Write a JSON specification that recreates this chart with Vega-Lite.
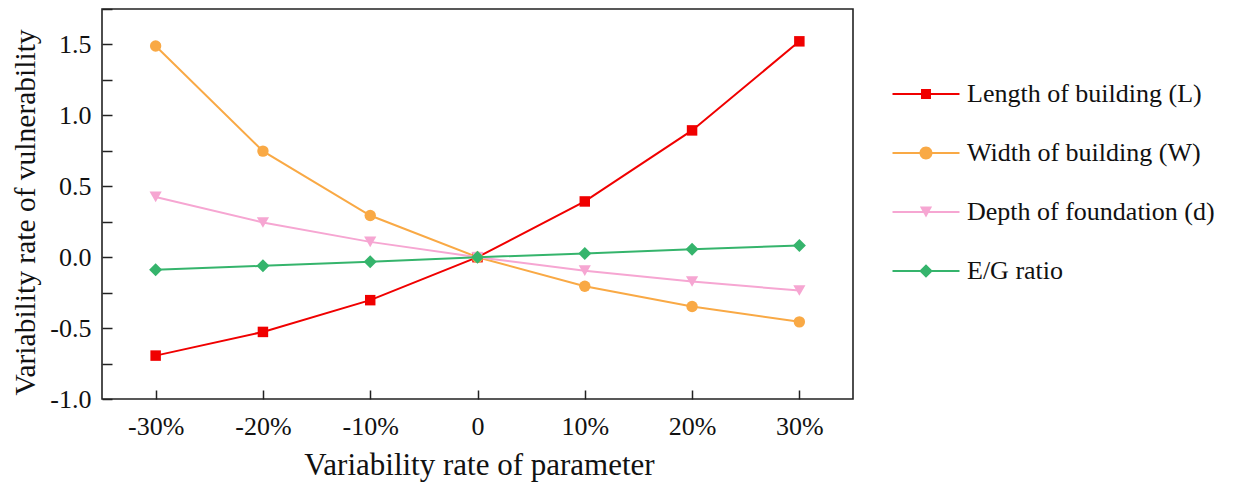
{
  "$schema": "https://vega.github.io/schema/vega-lite/v6.json",
  "width": 751,
  "height": 390,
  "autosize": {"type": "none"},
  "padding": {"left": 102, "top": 9, "right": 397, "bottom": 85},
  "background": "white",
  "config": {
    "font": "Liberation Serif",
    "view": {"stroke": "#222222", "strokeWidth": 1.6},
    "axis": {"grid": false, "domain": false, "labelFont": "Liberation Serif", "titleFont": "Liberation Serif", "labelColor": "#111111", "titleColor": "#111111", "tickColor": "#222222", "titleFontWeight": "normal"},
    "legend": {"labelFont": "Liberation Serif", "padding": 0}
  },
  "data": {
    "values": [
      {"x": -30, "y": -0.694, "series": "Length of building (L)"},
      {"x": -20, "y": -0.527, "series": "Length of building (L)"},
      {"x": -10, "y": -0.303, "series": "Length of building (L)"},
      {"x": 0, "y": 0, "series": "Length of building (L)"},
      {"x": 10, "y": 0.393, "series": "Length of building (L)"},
      {"x": 20, "y": 0.894, "series": "Length of building (L)"},
      {"x": 30, "y": 1.522, "series": "Length of building (L)"},
      {"x": -30, "y": 1.489, "series": "Width of building (W)"},
      {"x": -20, "y": 0.748, "series": "Width of building (W)"},
      {"x": -10, "y": 0.294, "series": "Width of building (W)"},
      {"x": 0, "y": 0, "series": "Width of building (W)"},
      {"x": 10, "y": -0.205, "series": "Width of building (W)"},
      {"x": 20, "y": -0.348, "series": "Width of building (W)"},
      {"x": 30, "y": -0.456, "series": "Width of building (W)"},
      {"x": -30, "y": 0.425, "series": "Depth of foundation (d)"},
      {"x": -20, "y": 0.245, "series": "Depth of foundation (d)"},
      {"x": -10, "y": 0.108, "series": "Depth of foundation (d)"},
      {"x": 0, "y": 0, "series": "Depth of foundation (d)"},
      {"x": 10, "y": -0.095, "series": "Depth of foundation (d)"},
      {"x": 20, "y": -0.172, "series": "Depth of foundation (d)"},
      {"x": 30, "y": -0.235, "series": "Depth of foundation (d)"},
      {"x": -30, "y": -0.089, "series": "E/G ratio"},
      {"x": -20, "y": -0.061, "series": "E/G ratio"},
      {"x": -10, "y": -0.032, "series": "E/G ratio"},
      {"x": 0, "y": 0, "series": "E/G ratio"},
      {"x": 10, "y": 0.026, "series": "E/G ratio"},
      {"x": 20, "y": 0.056, "series": "E/G ratio"},
      {"x": 30, "y": 0.083, "series": "E/G ratio"}
    ]
  },
  "layer": [
    {
      "mark": {"type": "line", "strokeWidth": 2},
      "encoding": {
        "x": {
          "field": "x", "type": "quantitative",
          "scale": {"domain": [-35, 35], "nice": false, "zero": false},
          "axis": {
            "orient": "bottom",
            "values": [-30, -20, -10, 0, 10, 20, 30],
            "labelExpr": "datum.value == 0 ? '0' : datum.value + '%'",
            "ticks": false, "labelPadding": 14, "labelFontSize": 26,
            "title": "Variability rate of parameter", "titleFontSize": 31,
            "titleX": 377, "titleY": 66, "titleBaseline": "middle"
          }
        },
        "y": {
          "field": "y", "type": "quantitative",
          "scale": {"domain": [-1, 1.75], "nice": false, "zero": false},
          "axis": {
            "orient": "left",
            "values": [-1, -0.5, 0, 0.5, 1, 1.5],
            "labelExpr": "replace(format(datum.value, '.1f'), '\u2212', '-')",
            "ticks": false, "labelPadding": 11, "labelFontSize": 26,
            "title": "Variability rate of vulnerability", "titleFontSize": 29.5,
            "titleX": -77, "titleY": 203, "titleBaseline": "middle", "titleAngle": -90
          }
        },
        "color": {
          "field": "series", "type": "nominal",
          "scale": {
            "domain": ["Length of building (L)", "Width of building (W)", "Depth of foundation (d)", "E/G ratio"],
            "range": ["#f00000", "#f9a945", "#f6a6d2", "#35b46c"]
          },
          "legend": null
        }
      }
    },
    {
      "mark": {"type": "point", "filled": true, "opacity": 1},
      "encoding": {
        "x": {
          "field": "x", "type": "quantitative",
          "scale": {"domain": [-35, 35], "nice": false, "zero": false},
          "axis": {"orient": "bottom", "values": [-30, -20, -10, 0, 10, 20, 30], "labels": false, "title": null, "tickSize": 9, "offset": -9, "ticks": true, "tickWidth": 1.5}
        },
        "y": {
          "field": "y", "type": "quantitative",
          "scale": {"domain": [-1, 1.75], "nice": false, "zero": false},
          "axis": {"orient": "left", "values": [-1, -0.75, -0.5, -0.25, 0, 0.25, 0.5, 0.75, 1, 1.25, 1.5, 1.75], "labels": false, "title": null, "tickSize": 10, "offset": -10, "ticks": true, "tickWidth": 1.5}
        },
        "color": {
          "field": "series", "type": "nominal",
          "scale": {
            "domain": ["Length of building (L)", "Width of building (W)", "Depth of foundation (d)", "E/G ratio"],
            "range": ["#f00000", "#f9a945", "#f6a6d2", "#35b46c"]
          },
          "legend": null
        },
        "shape": {
          "field": "series", "type": "nominal",
          "scale": {
            "domain": ["Length of building (L)", "Width of building (W)", "Depth of foundation (d)", "E/G ratio"],
            "range": ["square", "circle", "triangle-down", "diamond"]
          },
          "legend": null
        },
        "size": {
          "field": "series", "type": "nominal",
          "scale": {
            "domain": ["Length of building (L)", "Width of building (W)", "Depth of foundation (d)", "E/G ratio"],
            "range": [110, 169, 165, 182]
          },
          "legend": null
        }
      }
    },
    {
      "mark": {"type": "point", "filled": true, "opacity": 0, "size": 3364},
      "encoding": {
        "x": {"field": "x", "type": "quantitative", "scale": {"domain": [-35, 35], "nice": false, "zero": false}, "axis": null},
        "y": {"field": "y", "type": "quantitative", "scale": {"domain": [-1, 1.75], "nice": false, "zero": false}, "axis": null},
        "color": {
          "field": "series", "type": "nominal",
          "scale": {
            "domain": ["Length of building (L)", "Width of building (W)", "Depth of foundation (d)", "E/G ratio"],
            "range": ["#f00000", "#f9a945", "#f6a6d2", "#35b46c"]
          },
          "legend": {
            "title": null, "orient": "none", "legendX": 795, "legendY": 56,
            "labelFontSize": 26, "labelColor": "#111111", "labelOffset": 12,
            "symbolSize": 3364, "symbolStrokeWidth": 0, "rowPadding": 17,
            "labelLimit": 400,
            "encode": {"symbols": {"update": {"opacity": {"value": 1}}}}
          }
        },
        "shape": {
          "field": "series", "type": "nominal",
          "scale": {
            "domain": ["Length of building (L)", "Width of building (W)", "Depth of foundation (d)", "E/G ratio"],
            "range": [
              "M-1.155,-0.035H1.155V0.035H-1.155ZM-0.172,-0.172H0.172V0.172H-0.172Z",
              "M-1.155,-0.035H1.155V0.035H-1.155ZM-0.224,0A0.224,0.224,0,1,1,0.224,0A0.224,0.224,0,1,1,-0.224,0Z",
              "M-1.155,-0.035H1.155V0.035H-1.155ZM0,0.19L-0.212,-0.19L0.212,-0.19Z",
              "M-1.155,-0.035H1.155V0.035H-1.155ZM-0.234,0L0,-0.234L0.234,0L0,0.234Z"
            ]
          },
          "legend": {
            "title": null, "orient": "none", "legendX": 795, "legendY": 56,
            "labelFontSize": 26, "labelColor": "#111111", "labelOffset": 12,
            "symbolSize": 3364, "symbolStrokeWidth": 0, "rowPadding": 17,
            "labelLimit": 400
          }
        }
      }
    }
  ],
  "resolve": {
    "scale": {"color": "independent", "shape": "independent"},
    "axis": {"x": "independent", "y": "independent"}
  }
}
